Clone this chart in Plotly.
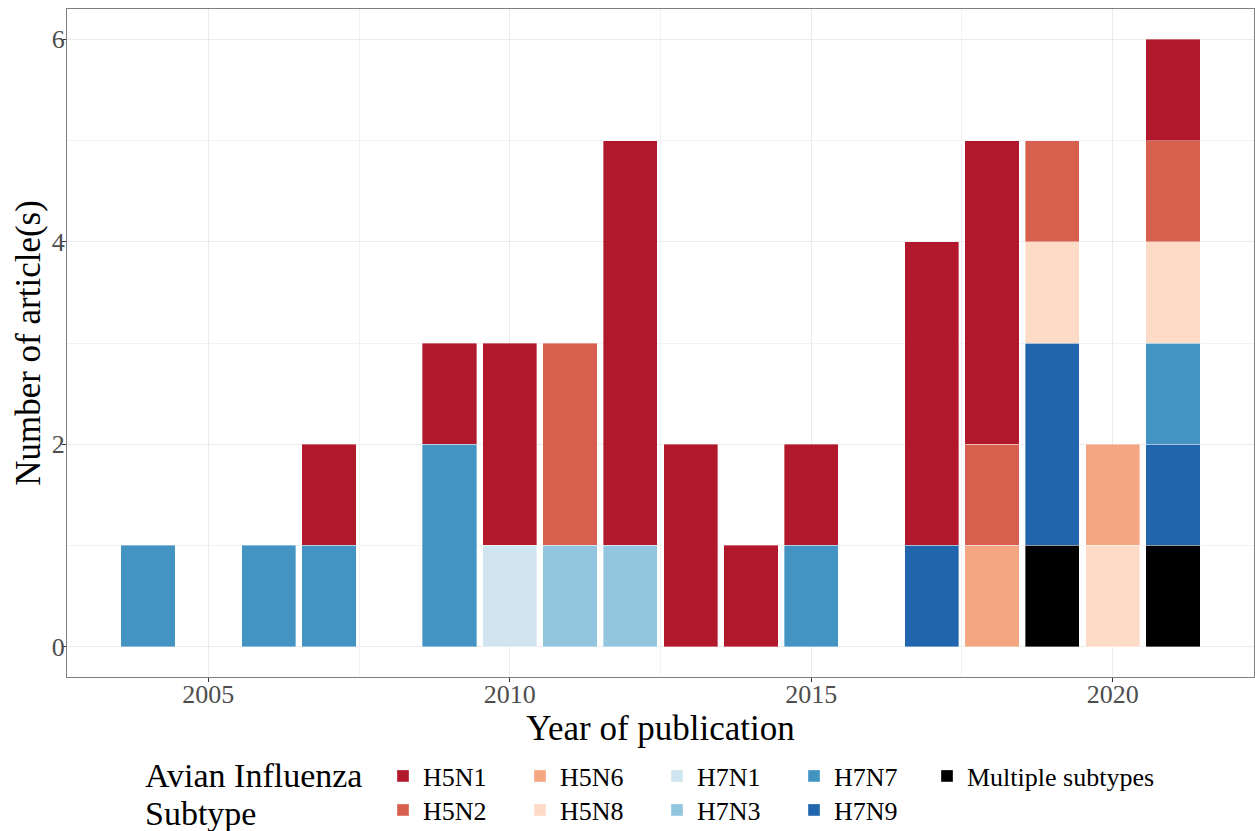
import plotly.graph_objects as go

years = [2004, 2006, 2007, 2009, 2010, 2011, 2012, 2013, 2014, 2015, 2017, 2018, 2019, 2020, 2021]

# counts per subtype, aligned with years
h5n1 = [0, 0, 1, 1, 2, 0, 4, 2, 1, 1, 3, 3, 0, 0, 1]
h5n2 = [0, 0, 0, 0, 0, 2, 0, 0, 0, 0, 0, 1, 1, 0, 1]
h5n6 = [0, 0, 0, 0, 0, 0, 0, 0, 0, 0, 0, 1, 0, 1, 0]
h5n8 = [0, 0, 0, 0, 0, 0, 0, 0, 0, 0, 0, 0, 1, 1, 1]
h7n1 = [0, 0, 0, 0, 1, 0, 0, 0, 0, 0, 0, 0, 0, 0, 0]
h7n3 = [0, 0, 0, 0, 0, 1, 1, 0, 0, 0, 0, 0, 0, 0, 0]
h7n7 = [1, 1, 1, 2, 0, 0, 0, 0, 0, 1, 0, 0, 0, 0, 1]
h7n9 = [0, 0, 0, 0, 0, 0, 0, 0, 0, 0, 1, 0, 2, 0, 1]
multiple = [0, 0, 0, 0, 0, 0, 0, 0, 0, 0, 0, 0, 1, 0, 1]

subtypes = ["H5N1", "H5N2", "H5N6", "H5N8", "H7N1", "H7N3", "H7N7", "H7N9", "Multiple subtypes"]
counts = [h5n1, h5n2, h5n6, h5n8, h7n1, h7n3, h7n7, h7n9, multiple]
colors = ["#B2182B", "#D6604D", "#F4A582", "#FDDBC7", "#D1E5F0",
          "#92C5DE", "#4393C3", "#2166AC", "#000000"]

FONT = "Liberation Serif, Times New Roman, serif"
W, H = 1255, 831

fig = go.Figure()

# stack bottom-up: last subtype first
for i in reversed(range(len(subtypes))):
    vals = [v if v else None for v in counts[i]]
    if i == len(subtypes) - 1:
        leg = "legend3"
    elif i % 2 == 0:
        leg = "legend"
    else:
        leg = "legend2"
    fig.add_trace(go.Bar(
        x=years, y=vals, name=subtypes[i],
        marker=dict(color=colors[i], line=dict(color="rgba(255,255,255,0.6)", width=0.6)),
        width=0.9,
        legend=leg,
        legendrank=i,
    ))

axis_common = dict(
    showline=True, mirror=True, linecolor="#7F7F7F", linewidth=1,
    gridcolor="#EBEBEB", gridwidth=1, zeroline=False,
    ticks="outside", ticklen=4, tickcolor="#333333",
    tickfont=dict(family=FONT, size=26, color="#4D4D4D"),
)

fig.update_xaxes(
    range=[2002.655, 2022.345], tick0=2005, dtick=5,
    minor=dict(dtick=2.5, tick0=2005, showgrid=True, gridcolor="#F2F2F2", gridwidth=1, ticks=""),
    ticklabelstandoff=-10,
    title=dict(text="Year of publication", font=dict(family=FONT, size=35, color="black"), standoff=0),
    **axis_common,
)
fig.update_yaxes(
    range=[-0.3, 6.3], tick0=0, dtick=2,
    minor=dict(dtick=1, showgrid=True, gridcolor="#F2F2F2", gridwidth=1, ticks=""),
    ticklabelstandoff=-8,
    title=dict(text="Number of article(s)", font=dict(family=FONT, size=35, color="black"), standoff=0),
    **axis_common,
)

legend_common = dict(
    orientation="h", xref="container", yref="container",
    xanchor="left", yanchor="middle",
    font=dict(family=FONT, size=26, color="black"),
    bgcolor="rgba(0,0,0,0)", traceorder="normal",
)

title_font = dict(family=FONT, size=34, color="black")

fig.update_layout(
    width=W, height=H,
    template="plotly_white",
    barmode="stack",
    plot_bgcolor="white", paper_bgcolor="white",
    margin=dict(l=67, r=1, t=9, b=154, autoexpand=False),
    font=dict(family=FONT),
    legend=dict(x=383 / W, y=1 - 776 / H, entrywidth=92, entrywidthmode="pixels", **legend_common),
    legend2=dict(x=383 / W, y=1 - 810 / H, entrywidth=92, entrywidthmode="pixels", **legend_common),
    legend3=dict(x=(383 + 4 * 136) / W, y=1 - 776 / H, **legend_common),
    annotations=[
        dict(text="Avian Influenza", xref="paper", yref="paper",
             x=(143 - 67) / 1187, y=1 - (775 - 9) / 668, xanchor="left", yanchor="middle",
             showarrow=False, font=title_font),
        dict(text="Subtype", xref="paper", yref="paper",
             x=(143 - 67) / 1187, y=1 - (813 - 9) / 668, xanchor="left", yanchor="middle",
             showarrow=False, font=title_font),
    ],
)

fig.write_html("out.html", config={"displayModeBar": False},
               post_script="document.body.style.margin='0';")
